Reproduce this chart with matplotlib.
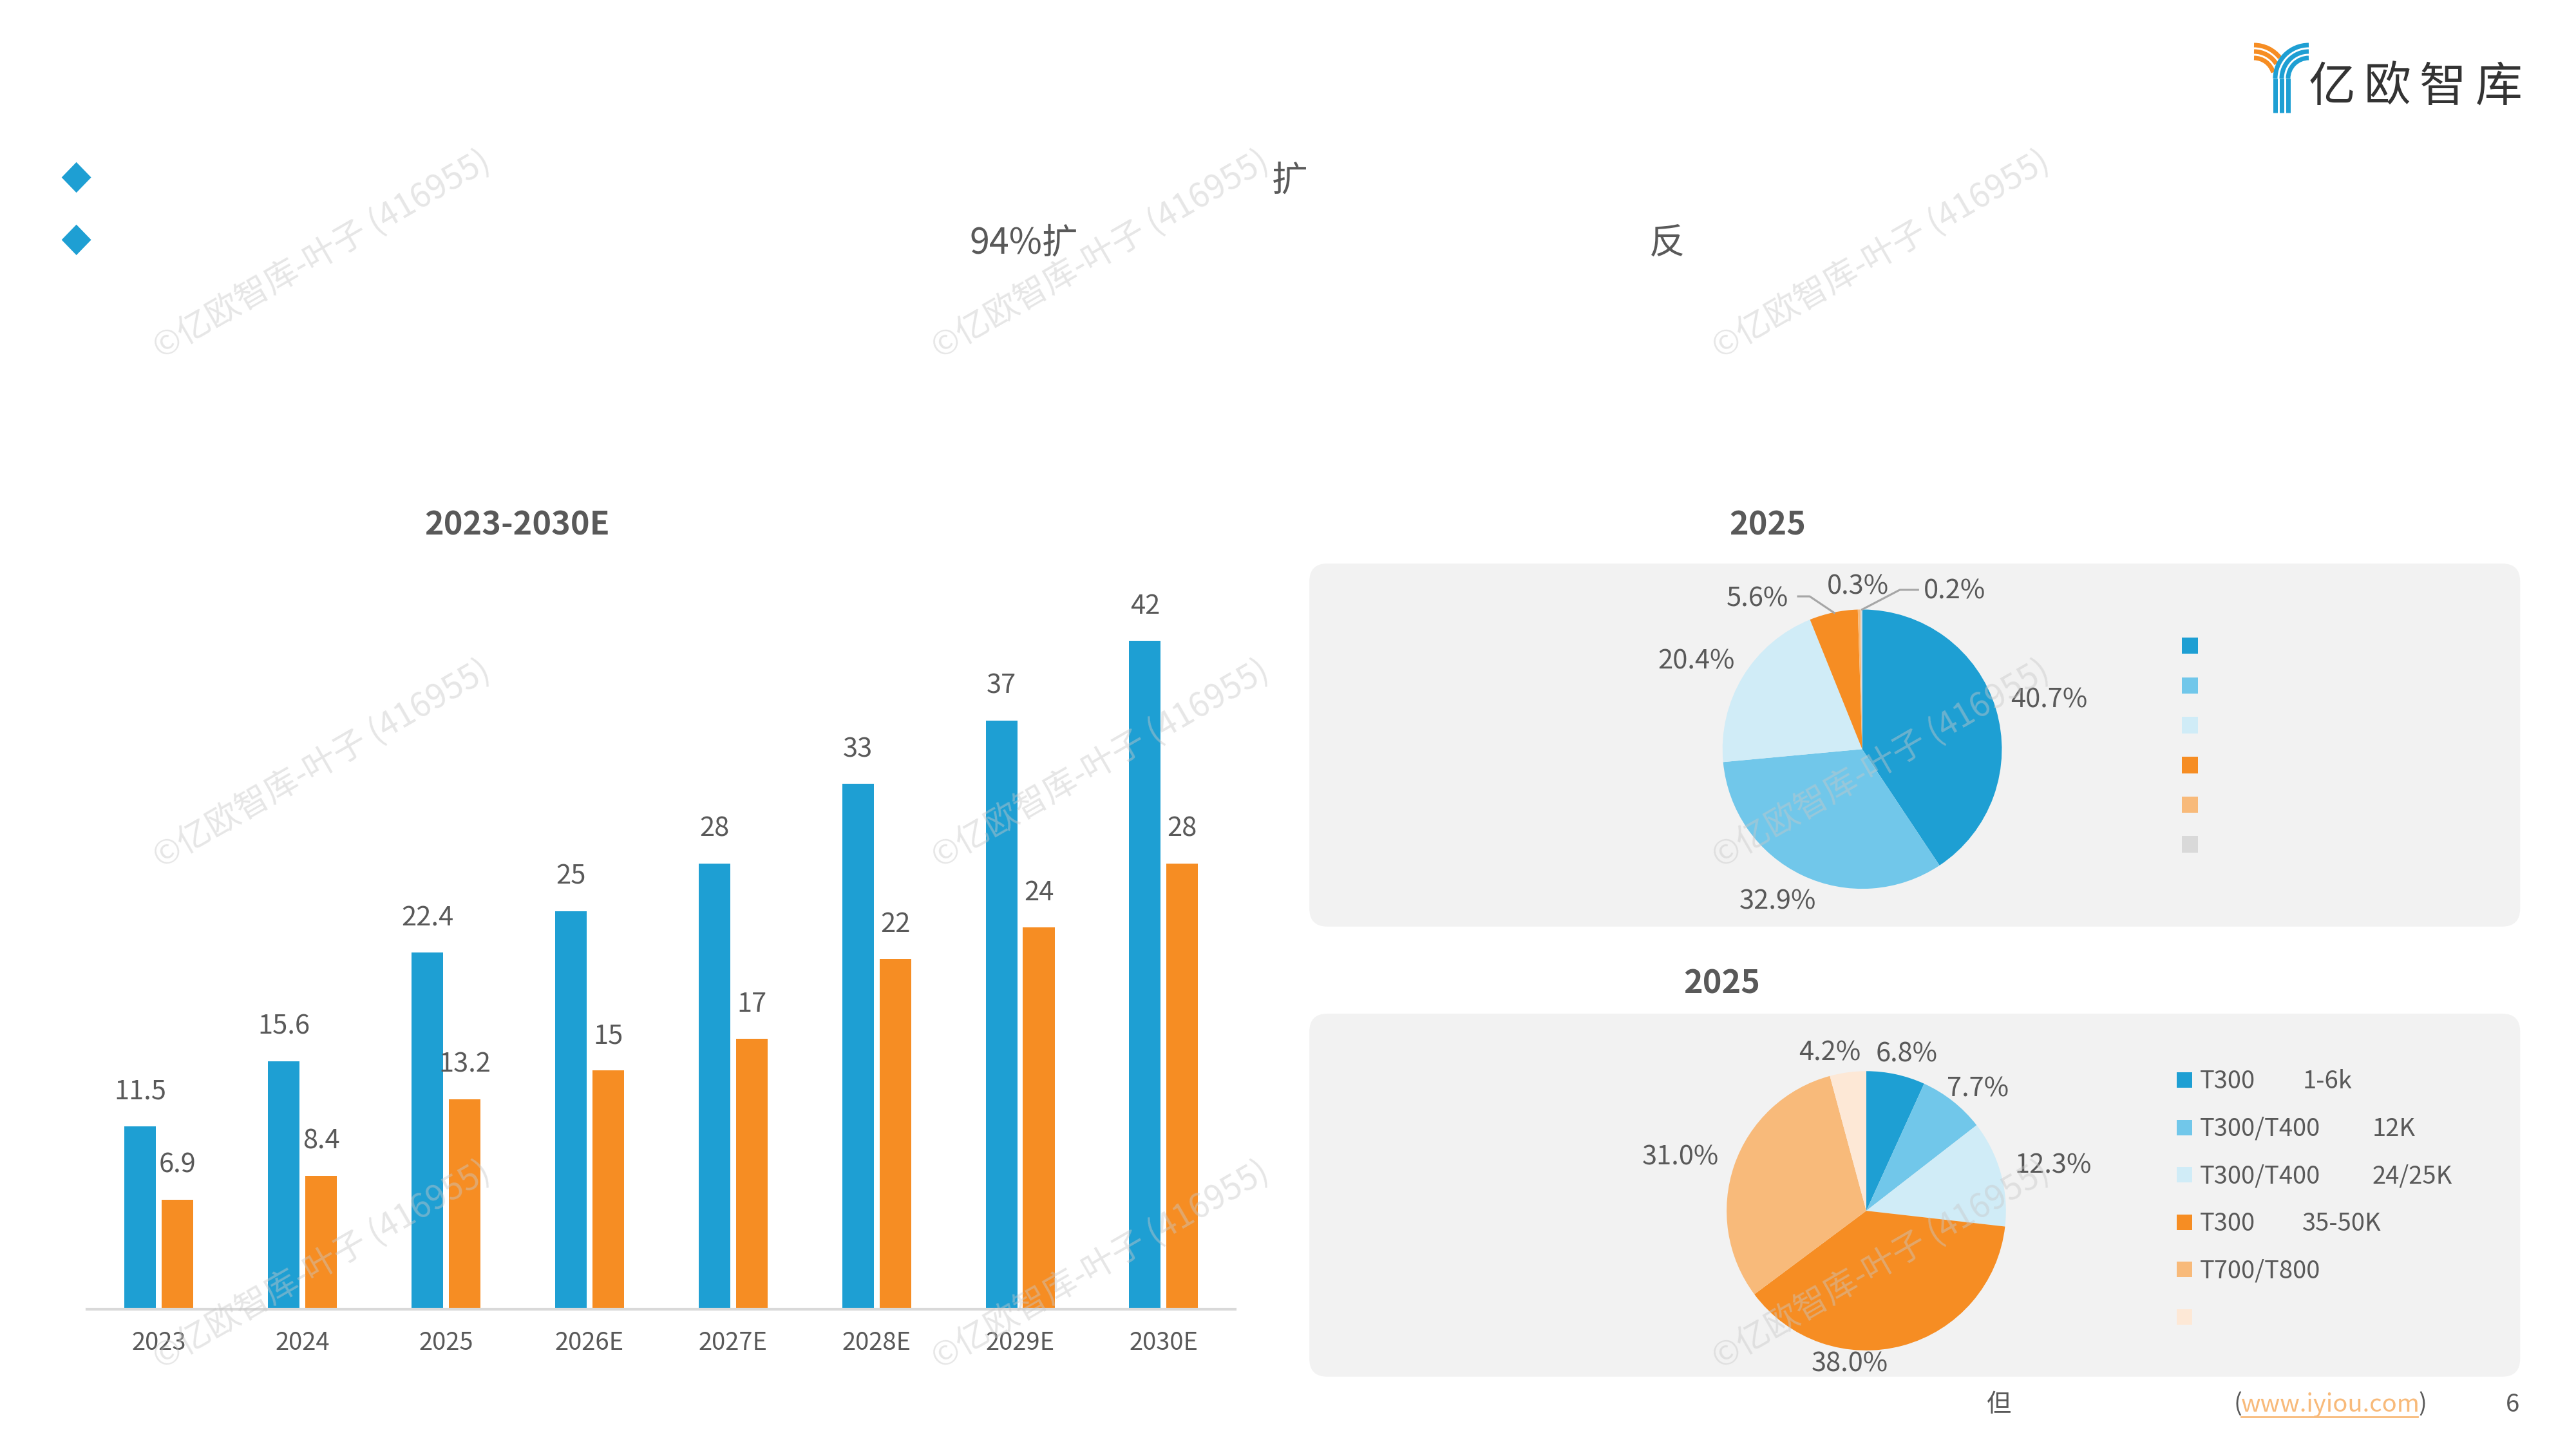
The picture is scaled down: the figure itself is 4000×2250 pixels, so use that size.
import matplotlib
matplotlib.use("Agg")
import matplotlib.pyplot as plt
from matplotlib.patches import FancyBboxPatch, Rectangle, Polygon, Arc

plt.rcParams['font.family'] = ['Noto Sans CJK SC', 'DejaVu Sans']

# ---- data ----
years = ['2023', '2024', '2025', '2026E', '2027E', '2028E', '2029E', '2030E']
series_a = [11.5, 15.6, 22.4, 25, 28, 33, 37, 42]
series_b = [6.9, 8.4, 13.2, 15, 17, 22, 24, 28]

pie1_values = [40.7, 32.9, 20.4, 5.6, 0.3, 0.2]
pie1_colors = ['#1E9FD3', '#71C7EA', '#D0ECF7', '#F68D23', '#F8BA7A', '#D9D9D9']

pie2_values = [6.8, 7.7, 12.3, 38.0, 31.0, 4.2]
pie2_colors = ['#1E9FD3', '#71C7EA', '#D0ECF7', '#F68D23', '#F8BA7A', '#FDE8D6']
pie2_names = ['T300', 'T300/T400', 'T300/T400', 'T300', 'T700/T800', '']
pie2_specs = ['1-6k', '12K', '24/25K', '35-50K', '', '']

BLUE = '#1E9FD3'
ORANGE = '#F68D23'
TXT = '#595959'

W, H = 1568, 882          # layout measured on the 1568x882 preview
S = 4000 / W              # full-size pixels per preview pixel


def fx(x):
    return x / W


def fy(y):
    return 1 - y / H


fig = plt.figure(figsize=(16, 9), dpi=250)

# background layer (rounded grey panels)
bg = fig.add_axes([0, 0, 1, 1], zorder=0)
bg.set_xlim(0, W)
bg.set_ylim(H, 0)
bg.axis('off')
for top, bottom in [(343, 564), (617, 838)]:
    bg.add_patch(FancyBboxPatch((797, top), 737, bottom - top,
                                boxstyle="round,pad=0,rounding_size=11",
                                fc='#F2F2F2', ec='none'))

# ---- bar chart ----
ax = fig.add_axes([fx(53), fy(797), (752 - 53) / W, 46 * 9.69 / H], zorder=3)
ax.patch.set_alpha(0)
x = list(range(len(years)))
bw = 0.22
bars_a = ax.bar([i - 0.13 for i in x], series_a, bw, color=BLUE)
bars_b = ax.bar([i + 0.13 for i in x], series_b, bw, color=ORANGE)
for bars, vals in [(bars_a, series_a), (bars_b, series_b)]:
    for b, v in zip(bars, vals):
        ax.annotate(f"{v:g}", (b.get_x() + b.get_width() / 2, v),
                    xytext=(0, 15.5), textcoords='offset points',
                    ha='center', va='center', fontsize=12, color=TXT)
ax.set_xlim(-0.5, len(years) - 0.5)
ax.set_ylim(0, 46)
ax.set_xticks(x)
ax.set_xticklabels(years, fontsize=11, color=TXT)
ax.tick_params(axis='x', length=0, pad=9.5)
ax.set_yticks([])
for s in ['top', 'right', 'left']:
    ax.spines[s].set_visible(False)
ax.spines['bottom'].set_color('#D9D9D9')
ax.spines['bottom'].set_linewidth(1.2)


# ---- pies ----
def make_pie(cx, cy, values, colors, label_pos):
    r = 85
    half = 1.25 * r
    pa = fig.add_axes([fx(cx - half), fy(cy + half), 2 * half / W, 2 * half / H], zorder=3)
    pa.pie(values, colors=colors, startangle=90, counterclock=False,
           wedgeprops=dict(linewidth=0))
    pa.set_xlim(-1.25, 1.25)
    pa.set_ylim(-1.25, 1.25)
    pa.patch.set_alpha(0)
    for v, (lx, ly) in zip(values, label_pos):
        pa.text(lx, ly - 0.018, f"{v:.1f}%", ha='center', va='center', fontsize=12, color=TXT)
    return pa


p1 = make_pie(1133.5, 456, pie1_values, pie1_colors,
              [(1.34, 0.37), (-0.607, -1.074), (-1.19, 0.645),
               (-0.75, 1.094), (-0.03, 1.18), (0.66, 1.15)])
p1.plot([-0.459, -0.376, -0.20], [1.094, 1.094, 0.976], color='#A6A6A6', lw=0.9)
p1.plot([0.40, 0.27, 0.0], [1.141, 1.141, 1.0], color='#A6A6A6', lw=0.9)

p2 = make_pie(1136, 737, pie2_values, pie2_colors,
              [(0.29, 1.14), (0.80, 0.89), (1.34, 0.34),
               (-0.12, -1.08), (-1.33, 0.40), (-0.26, 1.15)])

# ---- foreground layer ----
fg = fig.add_axes([0, 0, 1, 1], zorder=5)
fg.set_xlim(0, W)
fg.set_ylim(H, 0)
fg.axis('off')
fg.patch.set_alpha(0)

# legends
for i, c in enumerate(pie1_colors):
    fg.add_patch(Rectangle((1328, 388 + 24.2 * i), 10, 10, fc=c, ec='none'))
spec_x = [1401.5, 1444, 1444, 1401.5, 0, 0]
for i, c in enumerate(pie2_colors):
    yy = 657.5 + 28.8 * i
    fg.add_patch(Rectangle((1325, yy - 4.75), 9.5, 9.5, fc=c, ec='none'))
    if pie2_names[i]:
        fg.text(1339, yy + 1, pie2_names[i], ha='left', va='center', fontsize=11, color=TXT)
    if pie2_specs[i]:
        fg.text(spec_x[i], yy + 1, pie2_specs[i], ha='left', va='center', fontsize=11, color=TXT)

# titles
fg.text(315, 320, '2023-2030E', ha='center', va='center', fontsize=14.5,
        fontweight='bold', color=TXT)
fg.text(1076, 320, '2025', ha='center', va='center', fontsize=14.5,
        fontweight='bold', color=TXT)
fg.text(1048, 599, '2025', ha='center', va='center', fontsize=14.5,
        fontweight='bold', color=TXT)

# header bullets and text
for yb in [108, 146]:
    fg.add_patch(Polygon([(46.5, yb - 9.3), (55.5, yb), (46.5, yb + 9.3), (37.5, yb)],
                         closed=True, fc=BLUE, ec='none'))
fg.text(774, 110, '扩', ha='left', va='center', fontsize=16, color=TXT)
fg.text(590, 148, '94%扩', ha='left', va='center', fontsize=16, color=TXT)
fg.text(1004, 148, '反', ha='left', va='center', fontsize=16, color=TXT)

# footer
fg.text(1209, 855, '但', ha='left', va='center', fontsize=11, color=TXT)
fg.text(1359.5, 855, '(', ha='left', va='center', fontsize=11, color=TXT)
url = fg.text(1364, 855, 'www.iyiou.com', ha='left', va='center', fontsize=11,
              color='#F8BA7A')
fig.canvas.draw()
bb = url.get_window_extent().transformed(fg.transData.inverted())
url_end = max(bb.x0, bb.x1)
fg.text(url_end - 1.0, 855, ')', ha='left', va='center', fontsize=11, color=TXT)
fg.plot([1364, url_end - 1.5], [862.5, 862.5], color='#F8BA7A', lw=0.8)
fg.text(1533.5, 855, '6', ha='right', va='center', fontsize=11, color=TXT)

# logo (measured in full-size pixels)
lw_logo = 7 * 72 / 250
for r, t1 in zip([51, 41, 31], [322, 328, 344]):
    fg.add_patch(Arc((3500 / S, 121 / S), 2 * r / S, 2 * r / S, theta1=270, theta2=t1,
                     color=ORANGE, lw=lw_logo, capstyle='butt'))
for r in [52, 42, 32]:
    fg.add_patch(Arc((3585 / S, 122 / S), 2 * r / S, 2 * r / S, theta1=180, theta2=270,
                     color=BLUE, lw=lw_logo, capstyle='butt'))
    fg.plot([(3585 - r) / S] * 2, [122 / S, 175 / S], color=BLUE, lw=lw_logo,
            solid_capstyle='butt')
for ch, cxl in zip('亿欧智库', [3621, 3707, 3793, 3880]):
    fg.text(cxl / S, 136 / S, ch, ha='center', va='center', fontsize=21, color='#333333')

# watermarks
for wx in [196, 670, 1145]:
    for wy in [155, 465, 770]:
        fg.text(wx, wy, '©亿欧智库-叶子 (416955)', ha='center', va='center',
                rotation=30, fontsize=15, color='#C8C8C8', alpha=0.45)

fig.savefig('out.png', dpi=250)
